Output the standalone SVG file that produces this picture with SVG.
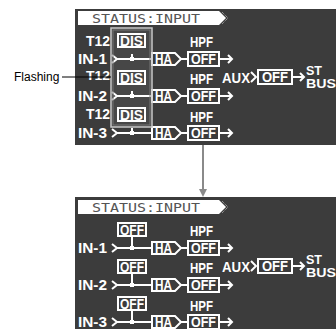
<svg xmlns="http://www.w3.org/2000/svg" width="336" height="329" viewBox="0 0 336 329">
<defs>
<style>
.scr{fill:#3c3c3c}
.lcd{font-family:"Liberation Sans",Arial,sans-serif;font-weight:bold;font-size:14px;fill:#fff}
.sm{font-size:12px}
.ttl{font-family:"DejaVu Sans Mono","Liberation Mono",monospace;font-size:12px;fill:#555}
.wl{stroke:#fff;stroke-width:2;fill:none}
.box{stroke:#fff;stroke-width:2;fill:#3c3c3c}
.lbl{font-family:"Liberation Sans",Arial,sans-serif;font-size:12px;fill:#000}
</style>
</defs>
<rect width="336" height="329" fill="#fff"/>

<g id="screen-top">
<rect class="scr" x="75" y="9" width="261" height="136"/>
<g id="title-top">
<path d="M78,11H219L226,18L219,25H78Z" fill="#fff"/>
<path d="M222,12L228,18L222,24" stroke="#bbb" stroke-width="1" fill="none" stroke-dasharray="1 1"/>
<text class="ttl" x="92" y="23" textLength="108" lengthAdjust="spacingAndGlyphs">STATUS:INPUT</text>
</g>
<g id="top-row1">
<text class="lcd" x="86" y="46" textLength="24" lengthAdjust="spacingAndGlyphs">T12</text>
<rect class="box" x="118" y="34" width="27" height="13"/>
<text class="lcd" x="120" y="46" textLength="23" lengthAdjust="spacingAndGlyphs">DIS</text>
<text class="lcd" x="78" y="64" textLength="29" lengthAdjust="spacingAndGlyphs">IN-1</text>
<path class="wl" d="M112,55L117,59L112,63M117,59H152M132,59V54"/>
<rect x="130" y="57" width="4" height="4" fill="#fff"/>
<path class="box" d="M152,53H175L181,59L175,65H152Z"/>
<text class="lcd" x="155" y="64" textLength="17" lengthAdjust="spacingAndGlyphs">HA</text>
<path class="wl" d="M181,59H188"/>
<text class="lcd" x="190" y="47" textLength="23" lengthAdjust="spacingAndGlyphs">HPF</text>
<rect class="box" x="188" y="52" width="31" height="14"/>
<text class="lcd" x="191" y="64" textLength="25" lengthAdjust="spacingAndGlyphs">OFF</text>
<path class="wl" d="M219,59H232M228,55L232,59L228,63"/>
</g>
<g id="top-row2">
<text class="lcd sm" x="86" y="80" textLength="24" lengthAdjust="spacingAndGlyphs">T12</text>
<rect class="box" x="118" y="71" width="27" height="13"/>
<text class="lcd" x="120" y="83" textLength="23" lengthAdjust="spacingAndGlyphs">DIS</text>
<text class="lcd" x="78" y="101" textLength="29" lengthAdjust="spacingAndGlyphs">IN-2</text>
<path class="wl" d="M112,92L117,96L112,100M117,96H152M132,96V91"/>
<rect x="130" y="94" width="4" height="4" fill="#fff"/>
<path class="box" d="M152,90H175L181,96L175,102H152Z"/>
<text class="lcd" x="155" y="101" textLength="17" lengthAdjust="spacingAndGlyphs">HA</text>
<path class="wl" d="M181,96H188"/>
<text class="lcd" x="190" y="84" textLength="23" lengthAdjust="spacingAndGlyphs">HPF</text>
<rect class="box" x="188" y="89" width="31" height="14"/>
<text class="lcd" x="191" y="101" textLength="25" lengthAdjust="spacingAndGlyphs">OFF</text>
<path class="wl" d="M219,96H232M228,92L232,96L228,100"/>
</g>
<g id="top-row3">
<text class="lcd" x="86" y="119" textLength="24" lengthAdjust="spacingAndGlyphs">T12</text>
<rect class="box" x="118" y="108" width="27" height="13"/>
<text class="lcd" x="120" y="120" textLength="23" lengthAdjust="spacingAndGlyphs">DIS</text>
<text class="lcd" x="78" y="138" textLength="29" lengthAdjust="spacingAndGlyphs">IN-3</text>
<path class="wl" d="M112,129L117,133L112,137M117,133H152M132,133V128"/>
<rect x="130" y="131" width="4" height="4" fill="#fff"/>
<path class="box" d="M152,127H175L181,133L175,139H152Z"/>
<text class="lcd" x="155" y="138" textLength="17" lengthAdjust="spacingAndGlyphs">HA</text>
<path class="wl" d="M181,133H188"/>
<text class="lcd" x="190" y="122" textLength="23" lengthAdjust="spacingAndGlyphs">HPF</text>
<rect class="box" x="188" y="126" width="31" height="14"/>
<text class="lcd" x="191" y="138" textLength="25" lengthAdjust="spacingAndGlyphs">OFF</text>
<path class="wl" d="M219,133H232M228,129L232,133L228,137"/>
</g>
<g id="top-aux">
<text class="lcd" x="222" y="83" textLength="28" lengthAdjust="spacingAndGlyphs">AUX</text>
<path class="wl" d="M251,72L256,77L251,82"/>
<rect class="box" x="258" y="70" width="34" height="14"/>
<text class="lcd" x="262" y="82" textLength="26" lengthAdjust="spacingAndGlyphs">OFF</text>
<path class="wl" d="M292,77H304M300,73L304,77L300,81"/>
<text class="lcd sm" x="306" y="75" textLength="16" lengthAdjust="spacingAndGlyphs">ST</text>
<text class="lcd sm" x="306" y="88" textLength="30" lengthAdjust="spacingAndGlyphs">BUS</text>
</g>
<g id="flashing-frame">
<rect x="111" y="28" width="41" height="99" fill="#fff" fill-opacity="0.06" stroke="#c8c8c8" stroke-width="1.5"/>
<rect x="113" y="30" width="37" height="95" fill="none" stroke="#777" stroke-width="1"/>
</g>
</g>

<g id="flashing-label">
<text class="lbl" x="14" y="81">Flashing</text>
<path d="M62,77H111" stroke="#000" stroke-width="1"/>
</g>

<g id="connectors">
<path d="M203,145V190" stroke="#8a8a8a" stroke-width="2"/>
<polygon points="199,189 207,189 203,197" fill="#8a8a8a"/>
</g>

<g id="screen-bottom">
<rect class="scr" x="75" y="197" width="261" height="132"/>
<g transform="translate(0,189)">
<g id="title-bottom">
<path d="M78,11H219L226,18L219,25H78Z" fill="#fff"/>
<path d="M222,12L228,18L222,24" stroke="#bbb" stroke-width="1" fill="none" stroke-dasharray="1 1"/>
<text class="ttl" x="92" y="23" textLength="108" lengthAdjust="spacingAndGlyphs">STATUS:INPUT</text>
</g>
<g id="bottom-row1">
<rect class="box" x="118" y="34" width="28" height="13"/>
<text class="lcd" x="120" y="46" textLength="24" lengthAdjust="spacingAndGlyphs">OFF</text>
<text class="lcd" x="78" y="64" textLength="29" lengthAdjust="spacingAndGlyphs">IN-1</text>
<path class="wl" d="M112,55L117,59L112,63M117,59H152M132,59V48"/>
<rect x="130" y="57" width="4" height="4" fill="#fff"/>
<path class="box" d="M152,53H175L181,59L175,65H152Z"/>
<text class="lcd" x="155" y="64" textLength="17" lengthAdjust="spacingAndGlyphs">HA</text>
<path class="wl" d="M181,59H188"/>
<text class="lcd" x="190" y="47" textLength="23" lengthAdjust="spacingAndGlyphs">HPF</text>
<rect class="box" x="188" y="52" width="31" height="14"/>
<text class="lcd" x="191" y="64" textLength="25" lengthAdjust="spacingAndGlyphs">OFF</text>
<path class="wl" d="M219,59H232M228,55L232,59L228,63"/>
</g>
<g id="bottom-row2">
<rect class="box" x="118" y="71" width="28" height="13"/>
<text class="lcd" x="120" y="83" textLength="24" lengthAdjust="spacingAndGlyphs">OFF</text>
<text class="lcd" x="78" y="101" textLength="29" lengthAdjust="spacingAndGlyphs">IN-2</text>
<path class="wl" d="M112,92L117,96L112,100M117,96H152M132,96V85"/>
<rect x="130" y="94" width="4" height="4" fill="#fff"/>
<path class="box" d="M152,90H175L181,96L175,102H152Z"/>
<text class="lcd" x="155" y="101" textLength="17" lengthAdjust="spacingAndGlyphs">HA</text>
<path class="wl" d="M181,96H188"/>
<text class="lcd" x="190" y="84" textLength="23" lengthAdjust="spacingAndGlyphs">HPF</text>
<rect class="box" x="188" y="89" width="31" height="14"/>
<text class="lcd" x="191" y="101" textLength="25" lengthAdjust="spacingAndGlyphs">OFF</text>
<path class="wl" d="M219,96H232M228,92L232,96L228,100"/>
</g>
<g id="bottom-row3">
<rect class="box" x="118" y="108" width="28" height="13"/>
<text class="lcd" x="120" y="120" textLength="24" lengthAdjust="spacingAndGlyphs">OFF</text>
<text class="lcd" x="78" y="138" textLength="29" lengthAdjust="spacingAndGlyphs">IN-3</text>
<path class="wl" d="M112,129L117,133L112,137M117,133H152M132,133V122"/>
<rect x="130" y="131" width="4" height="4" fill="#fff"/>
<path class="box" d="M152,127H175L181,133L175,139H152Z"/>
<text class="lcd" x="155" y="138" textLength="17" lengthAdjust="spacingAndGlyphs">HA</text>
<path class="wl" d="M181,133H188"/>
<text class="lcd" x="190" y="122" textLength="23" lengthAdjust="spacingAndGlyphs">HPF</text>
<rect class="box" x="188" y="126" width="31" height="14"/>
<text class="lcd" x="191" y="138" textLength="25" lengthAdjust="spacingAndGlyphs">OFF</text>
<path class="wl" d="M219,133H232M228,129L232,133L228,137"/>
</g>
<g id="bottom-aux">
<text class="lcd" x="222" y="83" textLength="28" lengthAdjust="spacingAndGlyphs">AUX</text>
<path class="wl" d="M251,72L256,77L251,82"/>
<rect class="box" x="258" y="70" width="34" height="14"/>
<text class="lcd" x="262" y="82" textLength="26" lengthAdjust="spacingAndGlyphs">OFF</text>
<path class="wl" d="M292,77H304M300,73L304,77L300,81"/>
<text class="lcd sm" x="306" y="75" textLength="16" lengthAdjust="spacingAndGlyphs">ST</text>
<text class="lcd sm" x="306" y="88" textLength="30" lengthAdjust="spacingAndGlyphs">BUS</text>
</g>
</g>
</g>
</svg>
